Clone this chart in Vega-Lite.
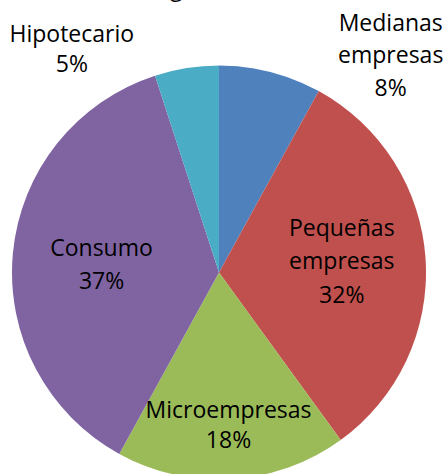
{
  "$schema": "https://vega.github.io/schema/vega-lite/v6.json",
  "width": 438,
  "height": 545,
  "autosize": "none",
  "padding": {"left": 0, "top": 0, "right": 10, "bottom": 0},
  "background": "white",
  "title": {"text": "(según saldo)", "font": "Open Sans", "fontSize": 23, "fontWeight": "normal", "color": "black", "baseline": "bottom", "offset": 0, "dy": 24, "dx": -9, "anchor": "middle"},
  "data": {"values": [
    {"idx": 1, "category": "Medianas empresas", "value": 8, "text": "Medianas\nempresas\n8%"},
    {"idx": 2, "category": "Pequeñas empresas", "value": 32, "text": "Pequeñas\nempresas\n32%"},
    {"idx": 3, "category": "Microempresas", "value": 18, "text": "Microempresas\n18%"},
    {"idx": 4, "category": "Consumo", "value": 37, "text": "Consumo\n37%"},
    {"idx": 5, "category": "Hipotecario", "value": 5, "text": "Hipotecario\n5%"}
  ]},
  "encoding": {
    "theta": {"field": "value", "type": "quantitative", "stack": true},
    "order": {"field": "idx", "type": "quantitative", "sort": "ascending"}
  },
  "layer": [
    {
      "mark": {"type": "arc", "outerRadius": 207},
      "encoding": {
        "color": {"field": "category", "type": "nominal", "legend": null,
          "scale": {"domain": ["Medianas empresas", "Pequeñas empresas", "Microempresas", "Consumo", "Hipotecario"],
                    "range": ["#4F81BD", "#C0504D", "#9BBB59", "#8064A2", "#4BACC6"]}}
      }
    },
    {
      "mark": {"type": "text", "radius": 228, "dx": 115, "dy": -28, "font": "Open Sans", "fontSize": 23, "lineHeight": 32.5, "align": "center", "baseline": "middle", "lineBreak": "\n", "color": "black"},
      "encoding": {"text": {"condition": {"test": "datum.idx == 1", "field": "text"}, "value": ""}}
    },
    {
      "mark": {"type": "text", "radius": 123, "dy": -36, "font": "Open Sans", "fontSize": 23, "lineHeight": 33.5, "align": "center", "baseline": "middle", "lineBreak": "\n", "color": "black"},
      "encoding": {"text": {"condition": {"test": "datum.idx == 2", "field": "text"}, "value": ""}}
    },
    {
      "mark": {"type": "text", "radius": 151, "dy": -12, "font": "Open Sans", "fontSize": 23, "lineHeight": 30, "align": "center", "baseline": "middle", "lineBreak": "\n", "color": "black"},
      "encoding": {"text": {"condition": {"test": "datum.idx == 3", "field": "text"}, "value": ""}}
    },
    {
      "mark": {"type": "text", "radius": 122, "dx": 4, "dy": -12, "font": "Open Sans", "fontSize": 23, "lineHeight": 33, "align": "center", "baseline": "middle", "lineBreak": "\n", "color": "black"},
      "encoding": {"text": {"condition": {"test": "datum.idx == 4", "field": "text"}, "value": ""}}
    },
    {
      "mark": {"type": "text", "radius": 225, "dx": -112, "dy": -15, "font": "Open Sans", "fontSize": 23, "lineHeight": 30, "align": "center", "baseline": "middle", "lineBreak": "\n", "color": "black"},
      "encoding": {"text": {"condition": {"test": "datum.idx == 5", "field": "text"}, "value": ""}}
    }
  ]
}
